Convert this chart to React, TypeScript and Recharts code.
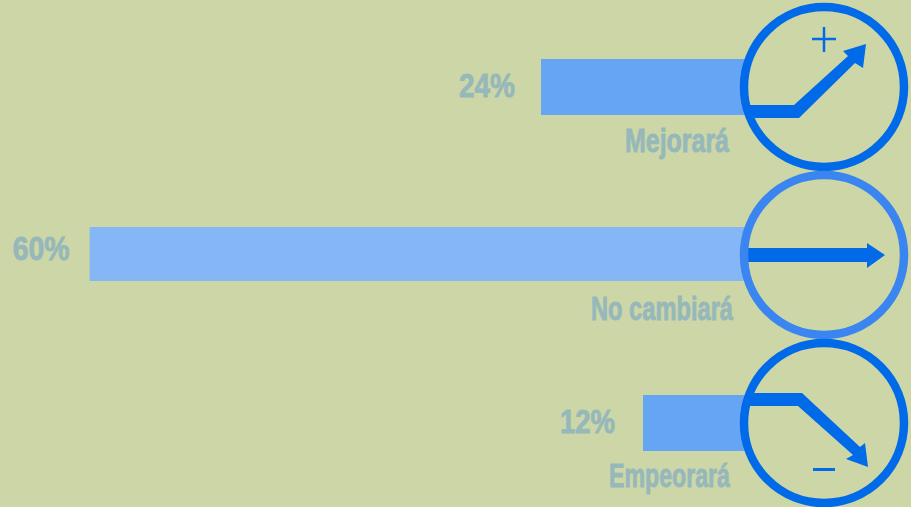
import { BarChart, Bar, XAxis, YAxis, LabelList } from 'recharts';

const categories = ['Mejorará', 'No cambiará', 'Empeorará'];
const percentLabels = ['24%', '60%', '12%'];
// the printed labels say 60%, but that bar is drawn longer than the others' scale would give
const barLengths = [24, 77.1, 12];

const data = categories.map((name, i) => ({ name, length: barLengths[i], label: percentLabels[i] }));

const background = '#ccd6a6';
const barColors = ['#66a5f3', '#85b6f5', '#66a5f3'];
const ringColors = ['#006ae8', '#3a85ef', '#006ae8'];
const arrowColor = '#006ae8';
const textColor = '#96b8ba';
const textFont = '"Liberation Sans", sans-serif';

const arrows = [
  '-74,18 -30,18 24,-31 19,-36 42,-43 39,-19 31,-24 -25,31 -74,31',
  '-76,-7 43,-7 43,-12 61,0 43,13 43,7 -76,7',
  '-74,-30 -22,-30 36,24 41,20 44,44 22,36 29,32 -26,-17 -74,-17',
];

const barTrims = [0, 2, 0];
const labelGaps = [26, 20, 28];
const labelWidths = [56, 57, 55];
const labelOffsets = [10, 5, 10];
const nameOffsets = [65, 65, 64];
const nameEnds = [-16, -12, -15];
const nameWidths = [104, 142, 121];

const BarWithIcon = (props: any) => {
  const { x, y, width, height, index } = props;
  // the reversed axis hands over a negative width, x is the zero side
  const left = Math.min(x, x + width);
  const right = Math.max(x, x + width);
  const cx = right + 79;
  const cy = y + height / 2;
  return (
    <g>
      <rect x={left} y={y} width={right - left} height={height - barTrims[index]} fill={barColors[index]} />
      <g transform={`translate(${cx},${cy})`}>
        <polygon points={arrows[index]} fill={arrowColor} />
        <circle r={80} fill="none" stroke={ringColors[index]} strokeWidth={8.5} />
        {index === 0 && (
          <path d="M-12,-48H12M0,-60V-35" stroke={arrowColor} strokeWidth={2.5} fill="none" />
        )}
        {index === 2 && <path d="M-11,46.5H11" stroke={arrowColor} strokeWidth={3} fill="none" />}
      </g>
    </g>
  );
};

const NameTick = (props: any) => {
  const { y, payload, index } = props;
  return (
    <text
      x={745 + nameEnds[index]}
      y={y + nameOffsets[index]}
      textAnchor="end"
      fill={textColor}
      stroke={textColor}
      strokeWidth={0.8}
      fontFamily={textFont}
      fontWeight={700}
      fontSize={33}
      textLength={nameWidths[index]}
      lengthAdjust="spacingAndGlyphs"
    >
      {payload.value}
    </text>
  );
};

const PercentLabel = (props: any) => {
  const { x, y, width, height, value, index } = props;
  const left = Math.min(x, x + width);
  return (
    <text
      x={left - labelGaps[index]}
      y={y + height / 2 + labelOffsets[index]}
      textAnchor="end"
      fill={textColor}
      stroke={textColor}
      strokeWidth={0.8}
      fontFamily={textFont}
      fontWeight={700}
      fontSize={33}
      textLength={labelWidths[index]}
      lengthAdjust="spacingAndGlyphs"
    >
      {value}
    </text>
  );
};

const App = () => {
  return (
    <div
      style={{
        position: 'absolute',
        left: 0,
        top: 0,
        width: 911,
        height: 507,
        overflow: 'hidden',
        background,
      }}
    >
      <BarChart
        layout="vertical"
        width={911}
        height={507}
        data={data}
        margin={{ top: 3, right: 0, bottom: 0, left: 0 }}
      >
        <XAxis type="number" hide reversed domain={[0, 87.65]} />
        <YAxis
          type="category"
          dataKey="name"
          orientation="right"
          width={166}
          axisLine={false}
          tickLine={false}
          interval={0}
          tick={<NameTick />}
        />
        <Bar dataKey="length" barSize={56} isAnimationActive={false} shape={<BarWithIcon />}>
          <LabelList dataKey="label" content={<PercentLabel />} />
        </Bar>
      </BarChart>
    </div>
  );
};

export default App;
